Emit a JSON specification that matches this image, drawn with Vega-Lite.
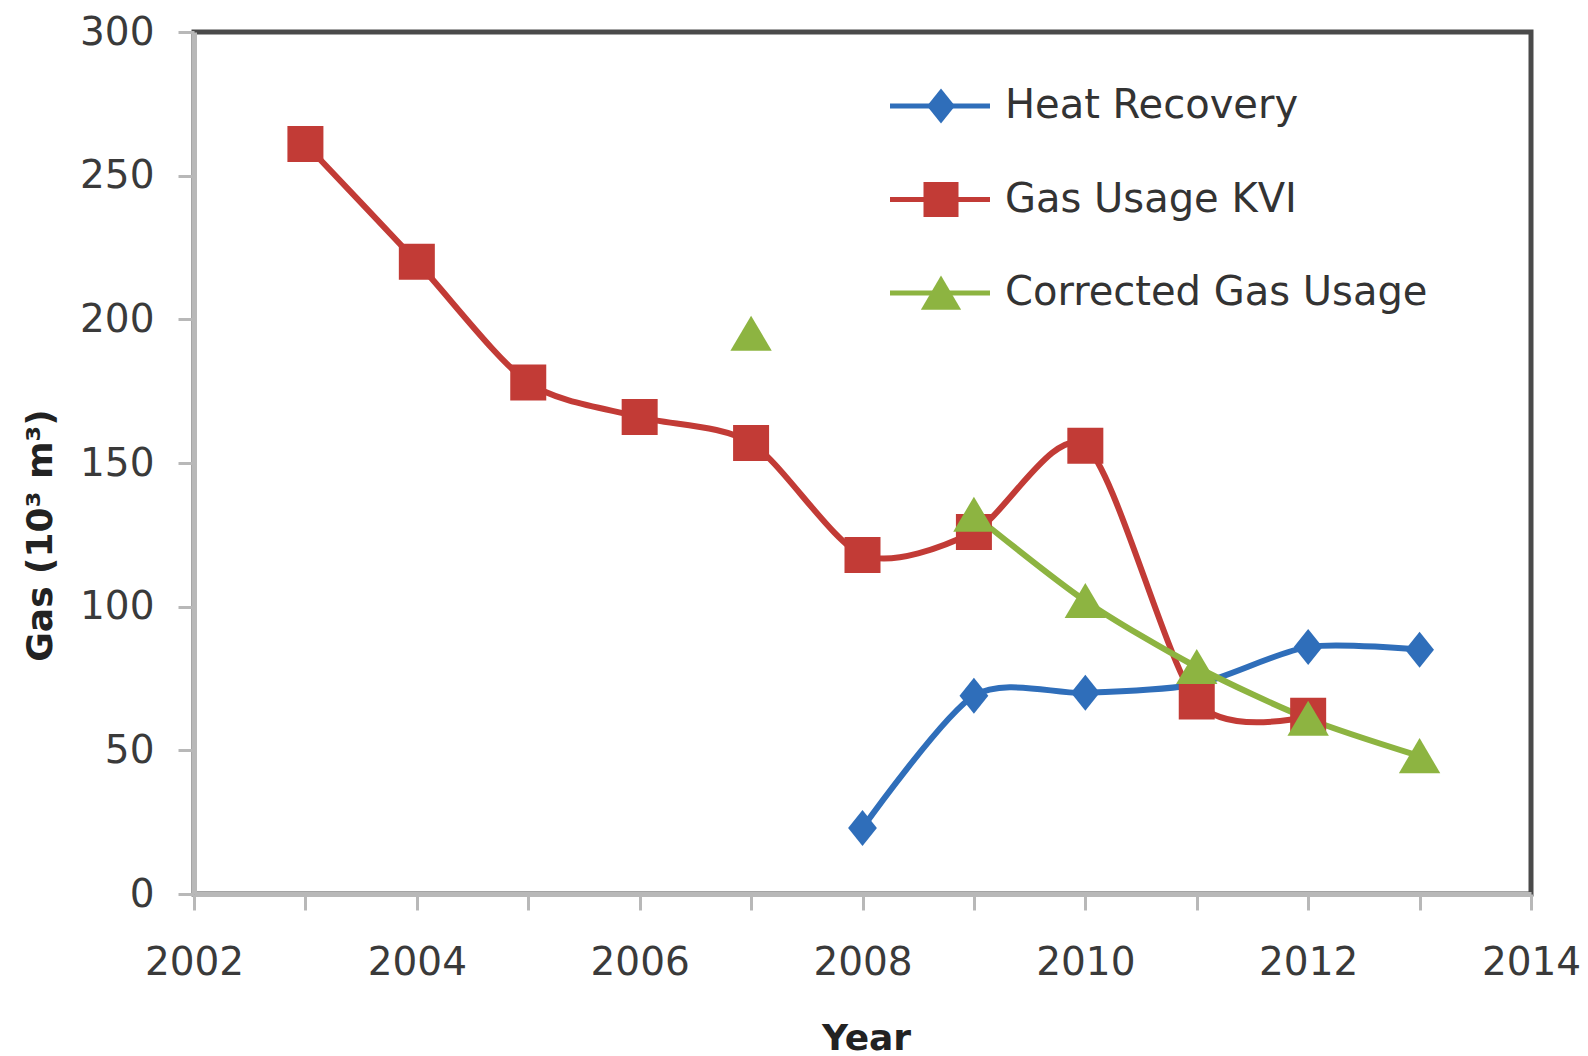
{
  "$schema": "https://vega.github.io/schema/vega-lite/v6.json",
  "width": 1337,
  "height": 862,
  "autosize": "none",
  "padding": {"left": 194, "top": 32, "right": 57, "bottom": 162},
  "background": "white",
  "config": {
    "view": {"stroke": "#4a4a4a", "strokeWidth": 5},
    "axis": {
      "domainColor": "#B8B8B8", "domainWidth": 5,
      "tickColor": "#B8B8B8", "tickWidth": 3, "tickSize": 16,
      "labelFont": "DejaVu Sans", "labelFontSize": 39, "labelColor": "#3a3a3a",
      "titleFont": "DejaVu Sans", "titleFontWeight": "bold", "titleFontSize": 36, "titleColor": "#222222",
      "grid": false, "zindex": 1
    },
    "legend": {
      "labelFont": "DejaVu Sans", "labelFontSize": 40, "labelColor": "#333333", "labelLimit": 700
    }
  },
  "data": {
    "values": [
      {"year": 2008, "series": "Heat Recovery", "gas": 23},
      {"year": 2009, "series": "Heat Recovery", "gas": 69},
      {"year": 2010, "series": "Heat Recovery", "gas": 70},
      {"year": 2011, "series": "Heat Recovery", "gas": 73},
      {"year": 2012, "series": "Heat Recovery", "gas": 86},
      {"year": 2013, "series": "Heat Recovery", "gas": 85},
      {"year": 2003, "series": "Gas Usage KVI", "gas": 261},
      {"year": 2004, "series": "Gas Usage KVI", "gas": 220},
      {"year": 2005, "series": "Gas Usage KVI", "gas": 178},
      {"year": 2006, "series": "Gas Usage KVI", "gas": 166},
      {"year": 2007, "series": "Gas Usage KVI", "gas": 157},
      {"year": 2008, "series": "Gas Usage KVI", "gas": 118},
      {"year": 2009, "series": "Gas Usage KVI", "gas": 126},
      {"year": 2010, "series": "Gas Usage KVI", "gas": 156},
      {"year": 2011, "series": "Gas Usage KVI", "gas": 67},
      {"year": 2012, "series": "Gas Usage KVI", "gas": 62},
      {"year": 2007, "series": "Corrected Gas Usage", "gas": 195},
      {"year": 2008, "series": "Corrected Gas Usage", "gas": null},
      {"year": 2009, "series": "Corrected Gas Usage", "gas": 132},
      {"year": 2010, "series": "Corrected Gas Usage", "gas": 102},
      {"year": 2011, "series": "Corrected Gas Usage", "gas": 79},
      {"year": 2012, "series": "Corrected Gas Usage", "gas": 61},
      {"year": 2013, "series": "Corrected Gas Usage", "gas": 48}
    ]
  },
  "encoding": {
    "x": {
      "field": "year", "type": "quantitative",
      "scale": {"domain": [2002, 2014], "nice": false, "zero": false},
      "axis": {
        "title": "Year",
        "values": [2002, 2003, 2004, 2005, 2006, 2007, 2008, 2009, 2010, 2011, 2012, 2013, 2014],
        "format": "d",
        "labelExpr": "datum.value % 2 === 0 ? datum.label : ''",
        "labelPadding": 33,
        "labelFlush": false,
        "labelOverlap": false,
        "titleX": 672, "titleY": 144, "titleBaseline": "middle"
      }
    },
    "y": {
      "field": "gas", "type": "quantitative",
      "scale": {"domain": [0, 300], "nice": false},
      "axis": {
        "title": "Gas (10³ m³)",
        "values": [0, 50, 100, 150, 200, 250, 300],
        "labelPadding": 24,
        "labelFlush": false,
        "titleX": -154, "titleY": 503, "titleBaseline": "middle", "titleAngle": -90
      }
    }
  },
  "layer": [
    {
      "mark": {"type": "line", "interpolate": "cardinal", "tension": 0.2, "strokeWidth": 6, "invalid": "break-paths-filter-domains"},
      "encoding": {
        "stroke": {
          "field": "series", "type": "nominal",
          "scale": {
            "domain": ["Heat Recovery", "Gas Usage KVI", "Corrected Gas Usage", " "],
            "range": ["#2F6EBA", "#C23B36", "#8DB441", "transparent"]
          },
          "legend": {
            "title": null,
            "orient": "none",
            "legendX": 694,
            "legendY": 54,
            "padding": 0,
            "symbolType": "M-4,0H4",
            "symbolSize": 625,
            "symbolStrokeWidth": 5,
            "symbolOffset": 32,
            "labelOffset": 45,
            "rowPadding": 53.5
          }
        }
      }
    },
    {
      "mark": {"type": "point", "filled": true, "opacity": 1, "size": 1296},
      "encoding": {
        "color": {
          "field": "series", "type": "nominal",
          "scale": {
            "domain": ["Heat Recovery", "Gas Usage KVI", "Corrected Gas Usage"],
            "range": ["#2F6EBA", "#C23B36", "#8DB441"]
          },
          "legend": {
            "title": null,
            "orient": "none",
            "legendX": 694,
            "legendY": 54,
            "padding": 0,
            "symbolSize": 1225,
            "symbolOffset": 33,
            "labelOffset": 45,
            "rowPadding": 53.5,
            "labelExpr": "''"
          }
        },
        "shape": {
          "field": "series", "type": "nominal",
          "scale": {
            "domain": ["Heat Recovery", "Gas Usage KVI", "Corrected Gas Usage"],
            "range": ["M0,-1L0.8,0L0,1L-0.8,0Z", "M-1,-1H1V1H-1Z", "M0,-1L1.15,0.95H-1.15Z"]
          },
          "legend": null
        }
      }
    }
  ]
}
